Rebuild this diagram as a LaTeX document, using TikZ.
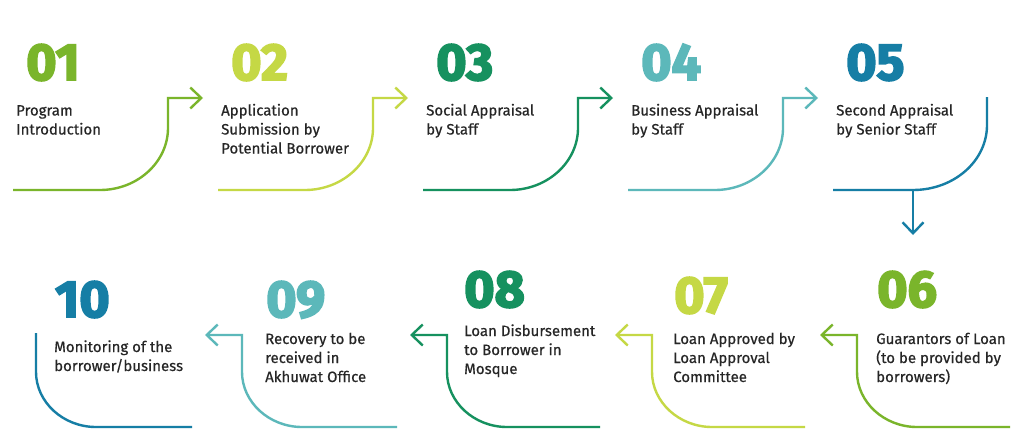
\documentclass[tikz,border=0pt]{standalone}
\usepackage{fontspec}
\setmainfont{Fira Sans}[FakeBold=0.5]
\newfontfamily\numfont{Fira Sans}[BoldFeatures={FakeBold=3.5}]
\usetikzlibrary{arrows.meta}
\definecolor{cA}{HTML}{7AB52B}
\definecolor{cB}{HTML}{C5D845}
\definecolor{cC}{HTML}{16915F}
\definecolor{cD}{HTML}{5CB8BA}
\definecolor{cE}{HTML}{167EA5}
\definecolor{txt}{HTML}{262626}
\tikzset{
  flow/.style={line width=2.4pt},
  tipend/.style={-{Straight Barb[length=11pt,width=21pt,line width=2.4pt]}},
  num/.style={anchor=base west, inner sep=0pt, font=\numfont\bfseries\fontsize{52}{52}\selectfont},
  lbl/.style={anchor=base west, inner sep=0pt, align=left, text=txt, font=\fontsize{15}{19}\selectfont},
}
\begin{document}
\begin{tikzpicture}[x=1pt,y=-1pt]
\useasboundingbox (0,0) rectangle (1024,439);
\fill[white] (0,0) rectangle (1024,439);

% ---- top row numbers and labels (label anchor = baseline of last line)
\node[num,text=cA] (n1) at (26,80) {01};
\node[num,text=cB] (n2) at (231,80) {02};
\node[num,text=cC] (n3) at (436,80) {03};
\node[num,text=cD] (n4) at (641,80) {04};
\node[num,text=cE] (n5) at (846,80) {05};
\node[lbl] (l1) at (16,134.5) {Program\\Introduction};
\node[lbl] (l2) at (221,153.5) {Application\\Submission by\\Potential Borrower};
\node[lbl] (l3) at (426,134.5) {Social Appraisal\\by Staff};
\node[lbl] (l4) at (631,134.5) {Business Appraisal\\by Staff};
\node[lbl] (l5) at (836,134.5) {Second Appraisal\\by Senior Staff};

% ---- bottom row numbers and labels
\node[num,text=cA] (n6) at (877,307) {06};
\node[num,text=cB] (n7) at (674,313) {07};
\node[num,text=cC] (n8) at (464,307) {08};
\node[num,text=cD] (n9) at (266,317) {09};
\node[num,text=cE] (n10) at (55,317) {10};
\node[lbl] (l6) at (876,382) {Guarantors of Loan\\(to be provided by\\borrowers)};
\node[lbl] (l7) at (673,382) {Loan Approved by\\Loan Approval\\Committee};
\node[lbl] (l8) at (464,374) {Loan Disbursement\\to Borrower in\\Mosque};
\node[lbl] (l9) at (265,382) {Recovery to be\\received in\\Akhuwat Office};
\node[lbl] (l10) at (54,371) {Monitoring of the\\borrower/business};

% ---- top row connectors
\foreach \i/\c in {1/cA,2/cB,3/cC,4/cD}{
  \pgfmathsetmacro\dx{205*(\i-1)}
  \coordinate (s\i) at (13+\dx,190);
  \coordinate (t\i) at (203+\dx,98);
  \draw[flow,draw=\c,tipend] (s\i) -- (100+\dx,190)
     .. controls (137.5+\dx,190) and (168+\dx,162) .. (168+\dx,128)
     -- (168+\dx,98) -- (t\i);
}
% step 05
\coordinate (s5) at (833,190);
\coordinate (j5) at (913,190);
\coordinate (e5) at (987,97);
\coordinate (t5) at (913,235);
\draw[flow,draw=cE] (s5) -- (j5) .. controls (954,190) and (987,161) .. (987,125) -- (e5);
\draw[flow,draw=cE,tipend] (j5) -- (t5);

% ---- bottom row connectors
\foreach \v/\e/\c/\n in {857/1010/cA/6,652/805/cB/7,447/600/cC/8,242/397/cD/9}{
  \coordinate (s\n) at (\e,427);
  \coordinate (t\n) at (\v-37,335);
  \draw[flow,draw=\c,tipend] (s\n) -- (\v+60,427)
     .. controls (\v+27,427) and (\v,402) .. (\v,372)
     -- (\v,335) -- (t\n);
}
% step 10
\coordinate (s10) at (192,427);
\coordinate (e10) at (36,333);
\draw[flow,draw=cE] (s10) -- (96,427) .. controls (63,427) and (36,402) .. (36,372) -- (e10);
\end{tikzpicture}
\end{document}
